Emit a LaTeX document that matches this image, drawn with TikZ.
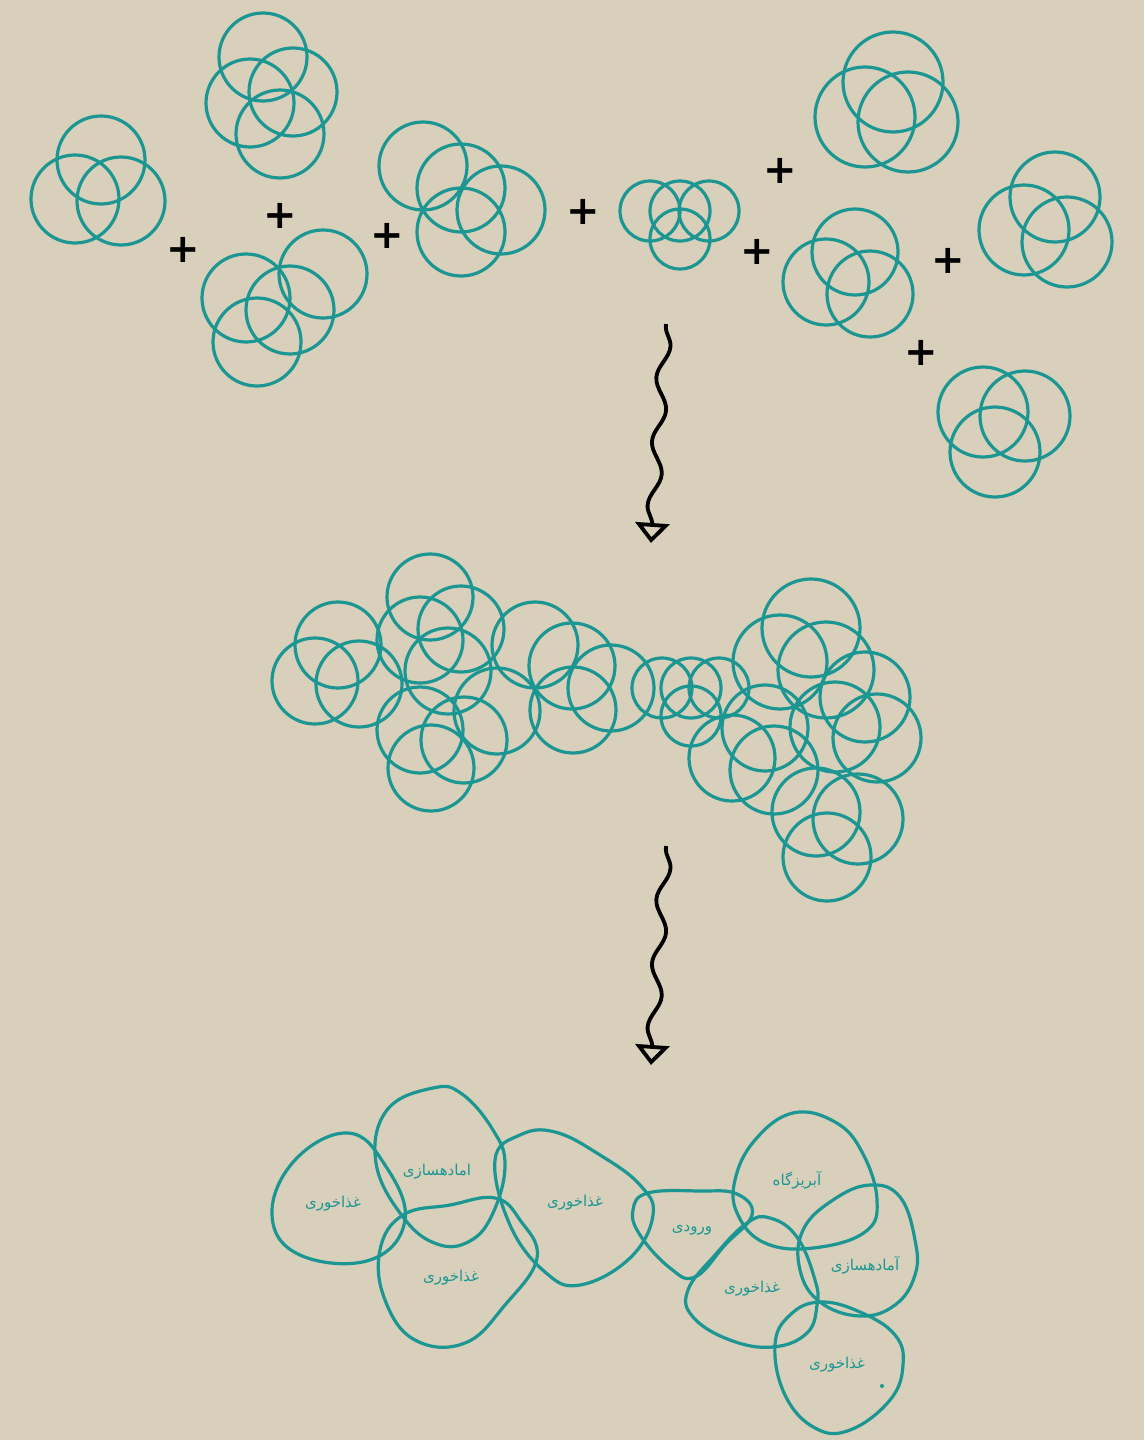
\documentclass[tikz,border=0pt]{standalone}
\usepackage{fontspec}
\usetikzlibrary{arrows.meta, decorations.pathmorphing}
\newfontfamily\arabicfont[Script=Arabic]{DejaVu Sans}
\newfontfamily\plusfont{DejaVu Sans}
\TeXXeTstate=1
\definecolor{paper}{RGB}{216,208,186}
\definecolor{cell}{RGB}{28,150,147}

\begin{document}
\begin{tikzpicture}[
        x=1pt, y=-1pt,
        ring/.style={draw=cell, line width=3.2pt},
        blob/.style={draw=cell, line width=3.2pt},
        plus/.style={inner sep=0pt, text=black, font={\plusfont\bfseries\fontsize{40}{40}\selectfont}},
        room/.style={inner sep=0pt, text=cell, font={\arabicfont\fontsize{15}{15}\selectfont}},
        wave/.style={draw=black, line width=3.8pt, decorate,
            decoration={snake, amplitude=6pt, segment length=64pt, pre length=2pt, post length=8pt},
            -{Triangle[open, length=20pt, width=34pt]}}
    ]

    % Paper
    \fill[paper] (0,0) rectangle (1144,1440);
    \useasboundingbox (0,0) rectangle (1144,1440);

    % Top clusters
    \foreach \cx/\cy/\r in {101/160/44, 75/199/44, 121/201/44,
                             263/57/44, 250/103/44, 293/92/44, 280/134/44,
                             323/274/44, 290/310/44, 246/298/44, 257/342/44,
                             423/166/44, 461/188/44, 501/210/44, 461/232/44,
                             650/211/30, 680/211/30, 709/211/30, 680/239/30,
                             893/82/50, 865/117/50, 908/122/50,
                             855/252/43, 826/282/43, 870/294/43,
                             1055/197/45, 1024/230/45, 1067/242/45,
                             983/412/45, 1025/416/45, 995/452/45}
        \draw[ring] (\cx,\cy) circle[radius=\r];

    % Plus signs
    \node[plus] (p1) at (183,250) {+};
    \node[plus] (p2) at (280,216) {+};
    \node[plus] (p3) at (387,236) {+};
    \node[plus] (p4) at (583,212) {+};
    \node[plus] (p5) at (780,171) {+};
    \node[plus] (p6) at (757,252) {+};
    \node[plus] (p7) at (948,261) {+};
    \node[plus] (p8) at (921,353) {+};

    % First arrow
    \coordinate (w1a) at (666,324);
    \coordinate (w1b) at (651,543);
    \draw[wave] (w1a) -- (w1b);

    % Middle cluster
    \foreach \cx/\cy/\r in {338/645/43, 315/681/43, 359/684/43,
                             430/597/43, 420/640/43, 461/629/43, 448/671/43,
                             497/711/43, 420/730/43, 464/740/43, 431/768/43,
                             535/645/43, 572/666/43, 573/710/43, 611/688/43,
                             662/688/30, 691/688/30, 719/688/30, 691/716/30,
                             811/628/49, 780/662/47, 826/670/48, 865/697/45,
                             877/738/44, 835/727/45, 765/728/43, 732/758/43,
                             774/770/44, 816/812/44, 858/819/45, 827/857/44}
        \draw[ring] (\cx,\cy) circle[radius=\r];

    % Second arrow
    \coordinate (w2a) at (666,846);
    \coordinate (w2b) at (651,1065);
    \draw[wave] (w2a) -- (w2b);

    % Bottom plan
    \draw[blob] plot[smooth cycle, tension=0.7] coordinates {(348,1133) (385,1165) (405,1220) (370,1260) (300,1255) (272,1215) (295,1160)};
    \draw[blob] plot[smooth cycle, tension=0.7] coordinates {(433,1088) (462,1094) (493,1130) (505,1165) (493,1213) (470,1241) (437,1244) (403,1217) (376,1163) (387,1110)};
    \draw[blob] plot[smooth cycle, tension=0.7] coordinates {(403,1215) (450,1205) (495,1198) (520,1220) (537,1258) (505,1305) (465,1343) (415,1340) (385,1300) (380,1250)};
    \draw[blob] plot[smooth cycle, tension=0.7] coordinates {(495,1160) (520,1135) (555,1132) (600,1155) (640,1185) (653,1215) (630,1258) (580,1285) (545,1272) (510,1225)};
    \draw[blob] plot[smooth cycle, tension=0.7] coordinates {(648,1193) (700,1191) (737,1194) (752,1215) (725,1245) (695,1277) (670,1268) (640,1235) (633,1210)};
    \draw[blob] plot[smooth cycle, tension=0.7] coordinates {(793,1113) (835,1122) (862,1152) (877,1200) (865,1232) (813,1248) (765,1243) (738,1215) (735,1180) (755,1140)};
    \draw[blob] plot[smooth cycle, tension=0.7] coordinates {(688,1290) (715,1255) (747,1223) (770,1218) (797,1237) (815,1280) (817,1305) (807,1333) (773,1347) (730,1340) (693,1317)};
    \draw[blob] plot[smooth cycle, tension=0.7] coordinates {(803,1230) (833,1200) (870,1185) (900,1197) (915,1240) (915,1275) (895,1305) (860,1316) (820,1302) (800,1270)};
    \draw[blob] plot[smooth cycle, tension=0.7] coordinates {(775,1345) (790,1315) (820,1302) (860,1312) (895,1335) (903,1365) (890,1400) (850,1430) (815,1428) (785,1395)};
    \fill[cell] (882,1386) circle[radius=2];

    % Room names
    \node[room] (dine1) at (333,1204) {\arabicfont\beginR غذاخوری\endR};
    \node[room] (prep1) at (437,1172) {\arabicfont\beginR امادهسازی\endR};
    \node[room] (dine2) at (451,1278) {\arabicfont\beginR غذاخوری\endR};
    \node[room] (dine3) at (575,1203) {\arabicfont\beginR غذاخوری\endR};
    \node[room] (entry) at (692,1230) {\arabicfont\beginR ورودی\endR};
    \node[room] (wc) at (797,1180) {\arabicfont\beginR آبریزگاه\endR};
    \node[room] (dine4) at (752,1289) {\arabicfont\beginR غذاخوری\endR};
    \node[room] (prep2) at (865,1265) {\arabicfont\beginR آمادهسازی\endR};
    \node[room] (dine5) at (837,1365) {\arabicfont\beginR غذاخوری\endR};

\end{tikzpicture}
\end{document}
